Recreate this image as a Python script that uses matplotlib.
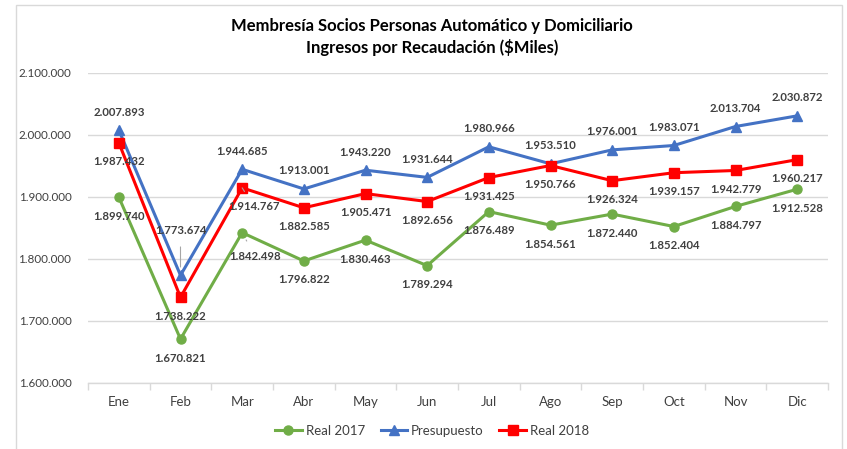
import matplotlib
matplotlib.use("Agg")
import matplotlib.pyplot as plt
from matplotlib.patches import Rectangle
from matplotlib.ticker import FuncFormatter, MultipleLocator

plt.rcParams['font.family'] = ['Lato', 'DejaVu Sans']

months = ["Ene", "Feb", "Mar", "Abr", "May", "Jun", "Jul", "Ago", "Sep", "Oct", "Nov", "Dic"]
real_2017 = [1899740, 1670821, 1842498, 1796822, 1830463, 1789294, 1876489, 1854561, 1872440, 1852404, 1884797, 1912528]
presupuesto = [2007893, 1773674, 1944685, 1913001, 1943220, 1931644, 1980966, 1953510, 1976001, 1983071, 2013704, 2030872]
real_2018 = [1987432, 1738222, 1914767, 1882585, 1905471, 1892656, 1931425, 1950766, 1926324, 1939157, 1942779, 1960217]

title = "Membresía Socios Personas Automático y Domiciliario\nIngresos por Recaudación ($Miles)"

def fmt(v):
    return f"{int(round(v)):,}".replace(",", ".")

fig = plt.figure(figsize=(8.47, 4.49), dpi=100)
W, H = 847, 449
# chart frame
fig.patches.append(Rectangle((16 / W, -0.1), (842 - 16) / W, (449 - 5) / H + 0.1,
                             transform=fig.transFigure, fill=False, edgecolor="#d9d9d9", lw=1.0))

ax = fig.add_axes([88 / W, (H - 383) / H, (828 - 88) / W, (383 - 73) / H])
x = list(range(len(months)))

c17, cp, c18 = "#70AD47", "#4472C4", "#FF0000"
ax.plot(x, real_2017, color=c17, lw=2.2, marker="o", ms=6.5, label="Real 2017", zorder=3)
ax.plot(x, presupuesto, color=cp, lw=2.2, marker="^", ms=7, label="Presupuesto", zorder=3)
ax.plot(x, real_2018, color=c18, lw=2.2, marker="s", ms=6.5, label="Real 2018", zorder=3)

ax.set_xlim(-0.5, len(months) - 0.5)
ax.set_ylim(1600000, 2100000)
ax.yaxis.set_major_locator(MultipleLocator(100000))
ax.yaxis.set_major_formatter(FuncFormatter(lambda v, p: fmt(v)))
ax.grid(axis="y", color="#d9d9d9", lw=1.0)
ax.set_axisbelow(True)
for s in ["top", "right", "left"]:
    ax.spines[s].set_visible(False)
ax.spines["bottom"].set_color("#d9d9d9")
ax.spines["bottom"].set_linewidth(1.0)

ax.set_xticks(x)
ax.set_xticklabels(months)
ax.set_xticks([i - 0.5 for i in range(len(months) + 1)], minor=True)
ax.tick_params(axis="x", which="major", length=0, pad=9, labelsize=9.5, labelcolor="#404040")
ax.tick_params(axis="x", which="minor", length=5, color="#d9d9d9", width=1.0)
ax.tick_params(axis="y", length=0, pad=12, labelsize=8.4, labelcolor="#404040")

lab_kw = dict(textcoords="offset pixels", ha="center", va="center",
              fontsize=8.2, fontweight="bold", color="#404040", zorder=4)

def label_series(vals, default_dy, special):
    for i, v in enumerate(vals):
        dx, dy, leader = special.get(i, (0, default_dy, False))
        if leader:
            ax.annotate(fmt(v), (i, v), xytext=(dx, dy),
                        arrowprops=dict(arrowstyle="-", color="#a6a6a6", lw=0.8,
                                        shrinkA=6, shrinkB=6), **lab_kw)
        else:
            ax.annotate(fmt(v), (i, v), xytext=(dx, dy), **lab_kw)

label_series(presupuesto, 18, {1: (0, 45, True)})
label_series(real_2018, -19, {2: (12, -19, True)})
label_series(real_2017, -19, {2: (13, -24, True)})

fig.text(432 / W, 1 - 37 / H, title, ha="center", va="center", fontsize=12,
         fontweight="bold", color="#000000", linespacing=1.3)

leg = fig.legend(loc="center", bbox_to_anchor=(432 / W, 1 - 431 / H), ncol=3,
                 frameon=False, fontsize=9.5, handlelength=2.0, columnspacing=1.2,
                 handletextpad=0.3)
for t in leg.get_texts():
    t.set_color("#404040")

fig.savefig("out.png", dpi=100)
